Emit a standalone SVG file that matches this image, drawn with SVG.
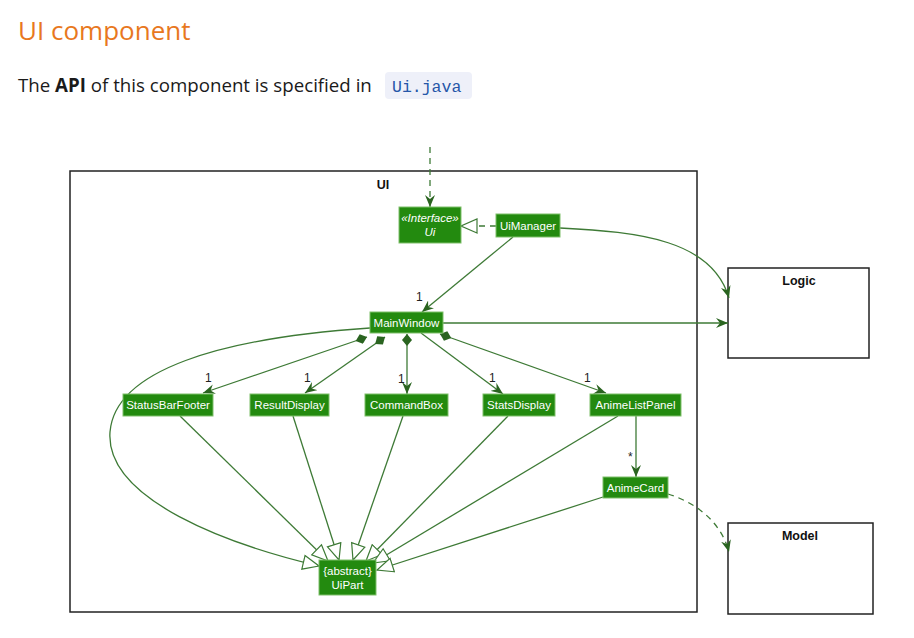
<svg xmlns="http://www.w3.org/2000/svg" width="914" height="638" viewBox="0 0 914 638">
<style>
.node rect{fill:#238a0f;stroke:#7fbf6a;stroke-width:1}
.node text{fill:#fff;font-family:"Liberation Sans",Arial,sans-serif;font-size:11.5px;text-anchor:middle}
.pkg{fill:#fff;stroke:#222;stroke-width:1.5}
.pkgl{font-family:"Liberation Sans",Arial,sans-serif;font-size:12.5px;font-weight:bold;fill:#111;text-anchor:middle}
.e{fill:none;stroke:#3e7a36;stroke-width:1.3}
.d{stroke-dasharray:6,5}
.lbl{font-family:"Liberation Sans",Arial,sans-serif;font-size:12px;fill:#222}
</style>
<defs>
<marker id="arr" markerUnits="userSpaceOnUse" viewBox="0 0 12 10" refX="12" refY="5" markerWidth="12" markerHeight="10" orient="auto"><path d="M0,0 L12,5 L0,10 L4,5 Z" fill="#2a6420"/></marker>
<marker id="tri" markerUnits="userSpaceOnUse" viewBox="-1 -1 18 16" refX="16" refY="7" markerWidth="18" markerHeight="16" orient="auto"><path d="M0,0 L16,7 L0,14 Z" fill="#fff" stroke="#3e7a36" stroke-width="1.2"/></marker>
<marker id="dia" markerUnits="userSpaceOnUse" viewBox="0 0 12 10" refX="0" refY="5" markerWidth="12" markerHeight="10" orient="auto"><path d="M0,5 L6,0 L12,5 L6,10 Z" fill="#2a6420"/></marker>
</defs>
<rect width="914" height="638" fill="#fff"/>
<text x="18" y="40" font-family="'Open Sans','Noto Sans',sans-serif" font-size="26" fill="#e8781e">UI component</text>
<text x="18" y="92" font-family="'Open Sans','Noto Sans',sans-serif" font-size="18.7" fill="#1a1a1a">The <tspan font-weight="bold">API</tspan> of this component is specified in</text>
<rect x="385" y="72" width="87" height="27" rx="4" fill="#eef0f9"/>
<text x="392" y="92" font-family="'Liberation Mono','DejaVu Sans Mono',monospace" font-size="16.5" fill="#2556a8">Ui.java</text>

<g id="pkg-ui"><rect class="pkg" x="70" y="171" width="627" height="441"/><text class="pkgl" x="383" y="189">UI</text></g>
<g id="pkg-logic"><rect class="pkg" x="728" y="268" width="141" height="90"/><text class="pkgl" x="799" y="285">Logic</text></g>
<g id="pkg-model"><rect class="pkg" x="728" y="523" width="145" height="91"/><text class="pkgl" x="800" y="540">Model</text></g>

<g id="connectors">
<path class="e d" d="M430,147 L430,207" marker-end="url(#arr)"/>
<path class="e d" d="M496,226 L461,226" marker-end="url(#tri)"/>
<path class="e" d="M513,237 L422,312" marker-end="url(#arr)"/>
<path class="e" d="M560,228 C640,232 712,240 729,298" marker-end="url(#arr)"/>
<path class="e" d="M443,323 L728,323" marker-end="url(#arr)"/>
<path class="e" d="M367,337 L203,393" marker-start="url(#dia)" marker-end="url(#arr)"/>
<path class="e" d="M385,337 L305,393" marker-start="url(#dia)" marker-end="url(#arr)"/>
<path class="e" d="M407,334 L407,394" marker-start="url(#dia)" marker-end="url(#arr)"/>
<path class="e" d="M421,333 L503,394" marker-end="url(#arr)"/>
<path class="e" d="M440,334 L606,393" marker-start="url(#dia)" marker-end="url(#arr)"/>
<path class="e" d="M636,416 L636,477" marker-end="url(#arr)"/>
<path class="e d" d="M668,494 C700,504 722,525 729,552" marker-end="url(#arr)"/>
<path class="e" d="M370,328 C220,338 115,370 110,432 C105,500 230,545 319,566" marker-end="url(#tri)"/>
<path class="e" d="M180,416 L328,561" marker-end="url(#tri)"/>
<path class="e" d="M293,416 L339,560" marker-end="url(#tri)"/>
<path class="e" d="M403,416 L353,560" marker-end="url(#tri)"/>
<path class="e" d="M508,416 L366,561" marker-end="url(#tri)"/>
<path class="e" d="M618,416 L373,563" marker-end="url(#tri)"/>
<path class="e" d="M603,497 L377,570" marker-end="url(#tri)"/>
<text class="lbl" x="416" y="301">1</text>
<text class="lbl" x="205" y="382">1</text>
<text class="lbl" x="304" y="382">1</text>
<text class="lbl" x="398" y="383">1</text>
<text class="lbl" x="489" y="382">1</text>
<text class="lbl" x="584" y="382">1</text>
<text class="lbl" x="628" y="461" font-size="10">*</text>
</g>

<g id="node-ui" class="node"><rect x="399" y="207" width="62" height="36"/><text x="430" y="222" font-style="italic" font-size="10.5">«Interface»</text><text x="430" y="236" font-style="italic">Ui</text></g>
<g id="node-uimanager" class="node"><rect x="496" y="214" width="64" height="23"/><text x="528" y="230">UiManager</text></g>
<g id="node-mainwindow" class="node"><rect x="370" y="312" width="73" height="21"/><text x="406.5" y="327">MainWindow</text></g>
<g id="node-statusbarfooter" class="node"><rect x="123" y="394" width="90" height="22"/><text x="168" y="409">StatusBarFooter</text></g>
<g id="node-resultdisplay" class="node"><rect x="250" y="394" width="79" height="22"/><text x="289.5" y="409">ResultDisplay</text></g>
<g id="node-commandbox" class="node"><rect x="365" y="394" width="83" height="22"/><text x="406.5" y="409">CommandBox</text></g>
<g id="node-statsdisplay" class="node"><rect x="483" y="394" width="72" height="22"/><text x="519" y="409">StatsDisplay</text></g>
<g id="node-animelistpanel" class="node"><rect x="590" y="394" width="91" height="22"/><text x="635.5" y="409">AnimeListPanel</text></g>
<g id="node-animecard" class="node"><rect x="603" y="477" width="65" height="21"/><text x="635.5" y="492">AnimeCard</text></g>
<g id="node-uipart" class="node"><rect x="319" y="560" width="57" height="35"/><text x="347.5" y="575">{abstract}</text><text x="347.5" y="589">UiPart</text></g>
</svg>
